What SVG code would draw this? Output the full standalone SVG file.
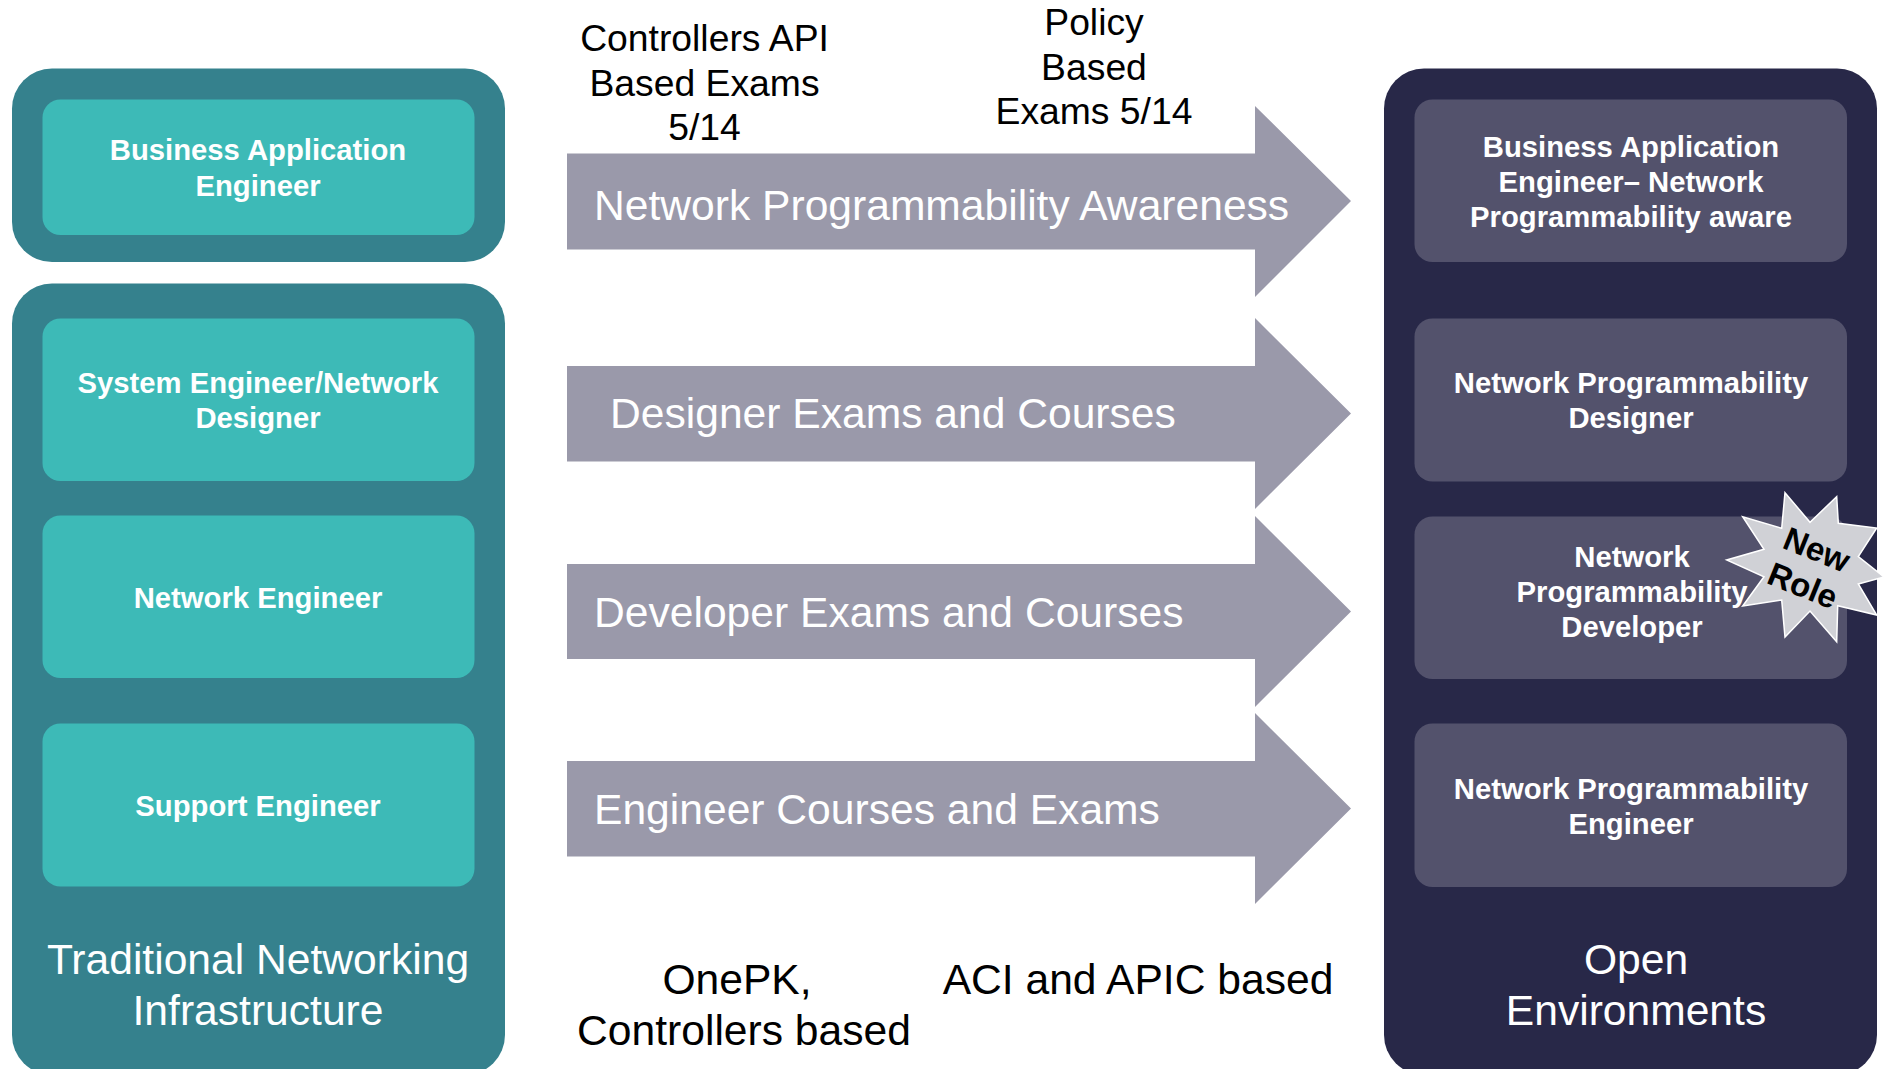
<svg xmlns="http://www.w3.org/2000/svg" width="1884" height="1069" viewBox="0 0 1884 1069">
<style>
text{font-family:"Liberation Sans",Arial,sans-serif;text-anchor:middle}
.o1{fill:#35818d}.o2{fill:#282848}
.i1{fill:#3dbab7}.i2{fill:#53526c}
.b{font-weight:bold;font-size:29.25px;fill:#fff}
.t{font-size:42.6px;fill:#fff}
.a{font-size:42.6px;fill:#fff;text-anchor:start}
.k{font-size:37.3px;fill:#000}
.k2{font-size:42.6px;fill:#000}
.arrow{fill:#9a99aa}
.star{font-size:33px;font-weight:bold;fill:#000}
</style>
<rect width="1884" height="1069" fill="#fff"/>
<g id="traditional-top"><rect class="o1" x="12" y="68.500" width="493" height="193.500" rx="40"/></g>
<g id="traditional-group"><rect class="o1" x="12" y="283.500" width="493" height="791.500" rx="40"/>
<text class="t" x="258" y="974">Traditional Networking</text><text class="t" x="258" y="1025">Infrastructure</text></g>
<g id="open-group"><rect class="o2" x="1384" y="68.500" width="493" height="1006.500" rx="40"/>
<text class="t" x="1636" y="974">Open</text><text class="t" x="1636" y="1025">Environments</text></g>
<g id="bae"><rect class="i1" x="42.500" y="99.500" width="432" height="135.500" rx="18"/>
<text class="b" x="258" y="160">Business Application</text><text class="b" x="258" y="196">Engineer</text></g>
<g id="se"><rect class="i1" x="42.500" y="318.500" width="432" height="162.500" rx="18"/>
<text class="b" x="258" y="393">System Engineer/Network</text><text class="b" x="258" y="428">Designer</text></g>
<g id="ne"><rect class="i1" x="42.500" y="515.500" width="432" height="162.500" rx="18"/>
<text class="b" x="258" y="608">Network Engineer</text></g>
<g id="sup"><rect class="i1" x="42.500" y="723.500" width="432" height="163" rx="18"/>
<text class="b" x="258" y="816">Support Engineer</text></g>
<g id="bae2"><rect class="i2" x="1414.500" y="99.500" width="432.500" height="162.500" rx="18"/>
<text class="b" x="1631" y="157">Business Application</text><text class="b" x="1631" y="192">Engineer– Network</text><text class="b" x="1631" y="227">Programmability aware</text></g>
<g id="npd"><rect class="i2" x="1414.500" y="318.500" width="432.500" height="163" rx="18"/>
<text class="b" x="1631" y="393">Network Programmability</text><text class="b" x="1631" y="428">Designer</text></g>
<g id="npdev"><rect class="i2" x="1414.500" y="516.500" width="432.500" height="162.500" rx="18"/>
<text class="b" x="1632" y="567">Network</text><text class="b" x="1632" y="602">Programmability</text><text class="b" x="1632" y="637">Developer</text></g>
<g id="npe"><rect class="i2" x="1414.500" y="723.500" width="432.500" height="163.500" rx="18"/>
<text class="b" x="1631" y="799">Network Programmability</text><text class="b" x="1631" y="834">Engineer</text></g>
<g id="connectors">
<path class="arrow" d="M567 153.500H1255V106L1351 201L1255 297V249.500H567Z"/>
<path class="arrow" d="M567 366H1255V318L1351 413.500L1255 509V461.500H567Z"/>
<path class="arrow" d="M567 564H1255V516L1351 611.500L1255 707V659H567Z"/>
<path class="arrow" d="M567 761H1255V713L1351 808.500L1255 904V856.500H567Z"/>
</g>
<g id="arrow-labels">
<text class="a" x="594" y="220">Network Programmability Awareness</text>
<text class="a" x="610" y="428">Designer Exams and Courses</text>
<text class="a" x="594" y="627">Developer Exams and Courses</text>
<text class="a" x="594" y="824">Engineer Courses and Exams</text>
</g>
<g id="annotations">
<text class="k" x="704.500" y="50.500">Controllers API</text><text class="k" x="704.500" y="95.500">Based Exams</text><text class="k" x="704.500" y="139.500">5/14</text>
<text class="k" x="1094" y="34.500">Policy</text><text class="k" x="1094" y="79.500">Based</text><text class="k" x="1094" y="123.500">Exams 5/14</text>
<text class="k2" x="737" y="994">OnePK,</text><text class="k2" x="744" y="1045">Controllers based</text>
<text class="k2" x="1138" y="994">ACI and APIC based</text>
</g>
<g id="new-role">
<path fill="#d0d1d6" stroke="#fff" stroke-width="1.500" d="M1785 492.700L1810 522.300L1836.700 496.700L1838.300 523.300L1876.700 528L1858.300 556.700L1884 577L1858.300 584L1876.700 615L1837.700 605.700L1836.700 641.700L1810 611L1785 637L1781.700 600L1742.700 606L1764 576.700L1726.700 560L1764 549.300L1742.700 516.700L1781.700 528.300Z"/>
<g transform="rotate(22 1817 549)"><text class="star" x="1817" y="561">New</text></g>
<g transform="rotate(22 1803 585)"><text class="star" x="1803" y="597">Role</text></g>
</g>
</svg>
